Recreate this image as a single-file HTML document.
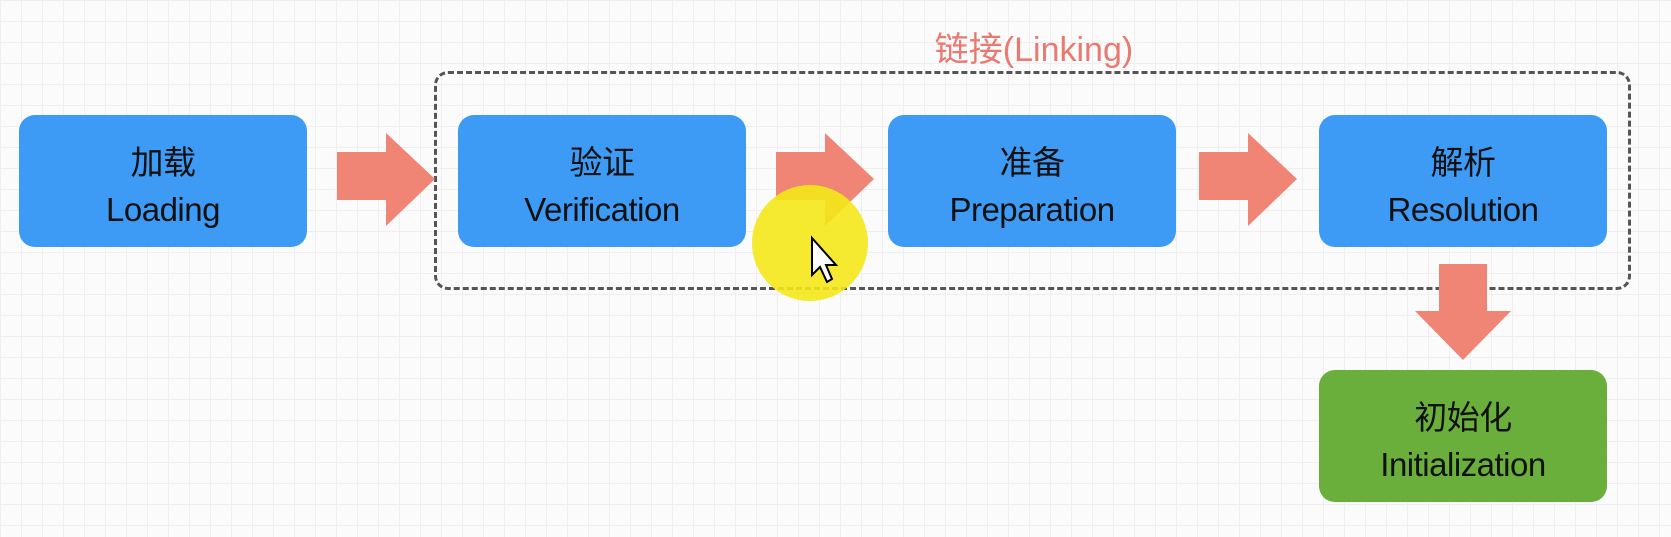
<!DOCTYPE html>
<html><head><meta charset="utf-8"><style>
body{margin:0;width:1671px;height:537px;overflow:hidden;background:#fbfbfb;
background-image:linear-gradient(#efefef 1px,transparent 1px),linear-gradient(90deg,#efefef 1px,transparent 1px);background-size:21px 21px;
font-family:"Liberation Sans","Noto Sans CJK SC",sans-serif;position:relative}
.b{position:absolute;width:288px;height:132px;background:#3d9bf5;border-radius:16px;color:#111;text-align:center;font-size:33px;line-height:47px;box-sizing:border-box;padding-top:24px;letter-spacing:-0.5px}
.g{background:#6aaf3c}
</style></head><body>
<div style="position:absolute;left:434px;top:71px;width:1197px;height:219px;border:3px dashed #555;border-radius:14px;box-sizing:border-box"></div>
<div style="position:absolute;left:914px;top:22px;width:240px;text-align:center;color:#e87a72;font-size:34px">链接(Linking)</div>
<div class="b" style="left:19px;top:115px">加载<br>Loading</div>
<div class="b" style="left:458px;top:115px">验证<br>Verification</div>
<div class="b" style="left:888px;top:115px">准备<br>Preparation</div>
<div class="b" style="left:1319px;top:115px">解析<br>Resolution</div>
<div class="b g" style="left:1319px;top:370px">初始化<br>Initialization</div>
<svg width="1671" height="537" style="position:absolute;left:0;top:0">
<g fill="#f08575">
<polygon points="337,152 386,152 386,133 435,179 386,226 386,200 337,200"/>
<polygon points="776,152 825,152 825,133 874,179 825,226 825,200 776,200"/>
<polygon points="1199,152 1248,152 1248,133 1297,179 1248,226 1248,200 1199,200"/>
<polygon points="1439,264 1487,264 1487,311 1511,311 1463,360 1415,311 1439,311"/>
</g>
<circle cx="810" cy="243" r="58" fill="#f4e81a" opacity="0.9"/>
<path d="M812,238 L812,275 L820,267 L827,282 L832,279 L826,265 L836,265 Z" fill="#fff" stroke="#000" stroke-width="2"/>
</svg>
</body></html>
